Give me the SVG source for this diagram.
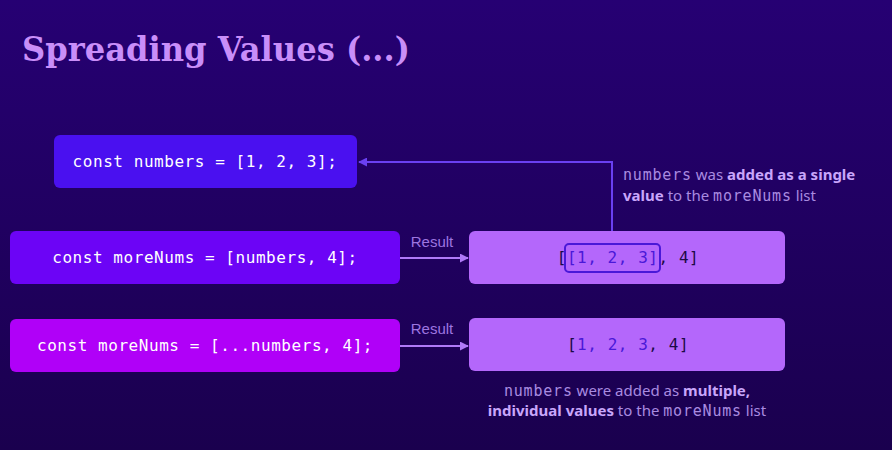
<svg xmlns="http://www.w3.org/2000/svg" width="892" height="450" viewBox="0 0 892 450">
<defs>
<linearGradient id="bg" x1="0" y1="0" x2="0" y2="1">
<stop offset="0" stop-color="#260073"/>
<stop offset="1" stop-color="#1a004e"/>
</linearGradient>
<marker id="ahL" viewBox="0 0 10 10" refX="9" refY="5" markerWidth="9" markerHeight="9" markerUnits="userSpaceOnUse" orient="auto">
<path d="M0,0 L10,5 L0,10 z" fill="#b07af8"/>
</marker>
<marker id="ahB" viewBox="0 0 10 10" refX="9" refY="5" markerWidth="9" markerHeight="9" markerUnits="userSpaceOnUse" orient="auto">
<path d="M0,0 L10,5 L0,10 z" fill="#6a40f2"/>
</marker>
</defs>
<style>
.code{font-family:"DejaVu Sans Mono","Liberation Mono",monospace;font-size:16px;letter-spacing:0.55px;text-anchor:middle;}
.w{fill:#ffffff;}
.dk{fill:#1c0a45;}
.bl{fill:#4a18d8;}
.lbl{font-family:"Liberation Sans",Arial,sans-serif;font-size:15px;fill:#9d76e0;}
.note{font-family:"Noto Sans","Open Sans",sans-serif;font-size:15px;fill:#a98be0;}
.note .b{font-weight:bold;fill:#c9a6fb;}
.note .m{font-family:"DejaVu Sans Mono",monospace;font-size:15px;letter-spacing:0.8px;}
</style>
<rect x="0" y="0" width="892" height="450" fill="url(#bg)"/>
<text x="22" y="61" font-family="'DejaVu Serif','Liberation Serif',serif" font-weight="bold" font-size="34" fill="#c98ef9" textLength="388" lengthAdjust="spacingAndGlyphs">Spreading Values (...)</text>

<g id="connectors">
<line x1="400" y1="258" x2="468" y2="258" stroke="#b07af8" stroke-width="2" marker-end="url(#ahL)"/>
<line x1="400" y1="346" x2="468" y2="346" stroke="#b07af8" stroke-width="2" marker-end="url(#ahL)"/>
<polyline points="612,244 612,162 359,162" fill="none" stroke="#6a40f2" stroke-width="2" marker-end="url(#ahB)"/>
<text class="lbl" x="432" y="247" text-anchor="middle">Result</text>
<text class="lbl" x="432" y="334" text-anchor="middle">Result</text>
</g>

<g id="numbers">
<rect x="54" y="135" width="303" height="53" rx="6" fill="#4a10f0"/>
<text class="code w" x="205" y="167">const numbers = [1, 2, 3];</text>
</g>
<g id="moreNums1">
<rect x="10" y="231" width="390" height="53" rx="6" fill="#6c04f6"/>
<text class="code w" x="205" y="263">const moreNums = [numbers, 4];</text>
</g>
<g id="moreNums2">
<rect x="10" y="319" width="390" height="53" rx="6" fill="#b000f8"/>
<text class="code w" x="205" y="351">const moreNums = [...numbers, 4];</text>
</g>
<g id="result1">
<rect x="469" y="231" width="316" height="53" rx="6" fill="#b467fb"/>
<rect x="565" y="244" width="95" height="28" rx="4" fill="none" stroke="#4a18d8" stroke-width="2"/>
<text class="code dk" x="628" y="263">[<tspan class="bl">[1, 2, 3]</tspan>, 4]</text>
</g>
<g id="result2">
<rect x="469" y="318" width="316" height="53" rx="6" fill="#b467fb"/>
<text class="code dk" x="628" y="350">[<tspan class="bl">1, 2, 3</tspan>, 4]</text>
</g>
<g id="note1">
<text class="note" x="623" y="180"><tspan class="m">numbers</tspan> was <tspan class="b">added as a single</tspan></text>
<text class="note" x="623" y="201"><tspan class="b">value</tspan> to the <tspan class="m">moreNums</tspan> list</text>
</g>
<g id="note2">
<text class="note" x="627" y="396" text-anchor="middle"><tspan class="m">numbers</tspan> were added as <tspan class="b">multiple,</tspan></text>
<text class="note" x="627" y="416" text-anchor="middle"><tspan class="b">individual values</tspan> to the <tspan class="m">moreNums</tspan> list</text>
</g>
</svg>
